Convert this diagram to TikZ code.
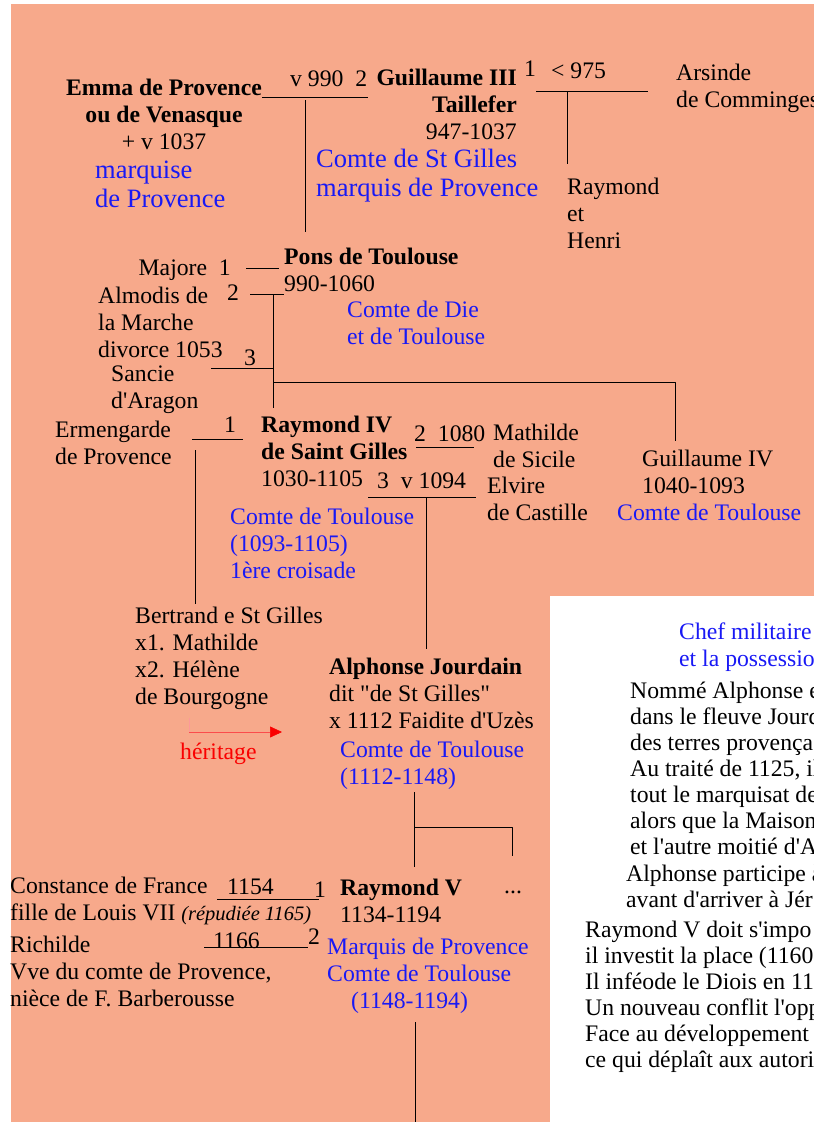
\documentclass[tikz,border=0pt]{standalone}
\usepackage{fontspec}
\setmainfont{Liberation Serif}
\usetikzlibrary{arrows.meta}
\definecolor{saumon}{RGB}{247,169,139}
\definecolor{bleu}{RGB}{25,25,245}
\definecolor{rouge}{RGB}{250,0,0}
\newcommand\taille{\fontsize{23.7pt}{27pt}\selectfont}
\newcommand\serre{\fontsize{23.7pt}{26pt}\selectfont}
\newcommand\grande{\fontsize{26.5pt}{29pt}\selectfont}
\newcommand\apo{\textquotesingle}
\begin{document}
\begin{tikzpicture}[x=1pt, y=-1pt, line join=round, font=\taille, >={Triangle[length=12pt,width=11pt]},
	txt/.style={anchor=base west, inner sep=0pt, align=left},
	titre/.style={txt, text=bleu},
	trait/.style={line width=1pt}]
			\useasboundingbox (0,0) rectangle (814,1122);
			\clip (0,0) rectangle (814,1122);
			\fill[saumon] (11,4) rectangle (814,1122);
			\fill[white] (550,596) rectangle (814,1122);
			% Guillaume III et ses femmes (ancre = ligne du bas)
			\node[txt, anchor=base, align=center] (emma) at (164,149) {\textbf{Emma de Provence}\\\textbf{ou de Venasque}\\+ v 1037};
			\node[titre, font=\grande] (emmat) at (95,207) {marquise\\de Provence};
			\node[txt] (m1) at (290,86) {v 990~~2};
			\node[txt, anchor=base east, align=right] (guil3) at (517,139) {\textbf{Guillaume III}\\\textbf{Taillefer}\\947-1037};
			\node[titre, font=\grande] (guil3t) at (316,196) {Comte de St Gilles\\marquis de Provence};
			\node[txt] (r1) at (524,76) {1};
			\node[txt] (m2) at (551,78) {< 975};
			\node[txt] (arsinde) at (676,107) {Arsinde\\de Comminges};
			\node[txt] (enf) at (567,248) {Raymond\\et\\Henri};
			\coordinate (u1a) at (262,97); \coordinate (u1b) at (368,97);
			\coordinate (d1a) at (305,100); \coordinate (d1b) at (305,232);
			\coordinate (u2a) at (536,91); \coordinate (u2b) at (648,91); \coordinate (d2) at (567,164);
			\draw[trait] (u1a)--(u1b) (d1a)--(d1b);
			\draw[trait] (u2a)--(u2b) (u2a -| d2)--(d2);
			% Pons de Toulouse
			\node[txt] (pons) at (284,291) {\textbf{Pons de Toulouse}\\990-1060};
			\node[titre] (ponst) at (347,344) {Comte de Die\\et de Toulouse};
			\node[txt, anchor=base east] (majore) at (231,275) {Majore~~1};
			\node[txt] (almodis) at (98,357) {Almodis de\\la Marche\\divorce 1053};
			\node[txt] (r2) at (227,300) {2};
			\node[txt] (r3) at (244,365) {3};
			\node[txt] (sancie) at (111,408) {Sancie\\d\apo Aragon};
			\coordinate (u3a) at (246,268); \coordinate (u3b) at (279,268);
			\coordinate (u4a) at (250,294); \coordinate (u4b) at (284,294);
			\coordinate (u5a) at (211,368); \coordinate (d3) at (273,408);
			\coordinate (b1) at (273,382); \coordinate (d4) at (675,441);
			\draw[trait] (u3a)--(u3b) (u4a)--(u4b) (u4a -| d3)--(d3) (u5a)--(u5a -| d3);
			\draw[trait] (b1)--(b1 -| d4)--(d4);
			% Raymond IV
			\node[txt] (ermen) at (55,464) {Ermengarde\\de Provence};
			\node[txt] (r4) at (224,432) {1};
			\node[txt] (ray4) at (261,486) {\textbf{Raymond IV}\\\textbf{de Saint Gilles}\\1030-1105};
			\node[txt] (m3) at (414,441) {2~~1080};
			\node[txt] (mathilde) at (493,467) {Mathilde\\de Sicile};
			\node[txt] (m4) at (377,488) {3~~v 1094};
			\node[txt] (elvire) at (487,520) {Elvire\\de Castille};
			\node[titre] (ray4t) at (230,578) {Comte de Toulouse\\(1093-1105)\\1ère croisade};
			\node[txt] (guil4) at (642,493) {Guillaume IV\\1040-1093};
			\node[titre] (guil4t) at (617,520) {Comte de Toulouse};
			\coordinate (u6a) at (192,439); \coordinate (u6b) at (243,439);
			\coordinate (d5a) at (195,450); \coordinate (d5b) at (195,604);
			\coordinate (u7a) at (416,447); \coordinate (u7b) at (474,447);
			\coordinate (u8a) at (368,497); \coordinate (u8b) at (476,497); \coordinate (d6) at (426,649);
			\draw[trait] (u6a)--(u6b) (d5a)--(d5b) (u7a)--(u7b) (u8a)--(u8b) (u8a -| d6)--(d6);
			% Bertrand et Alphonse
			\node[txt] (bertrand) at (135,704) {Bertrand e St Gilles\\x1. Mathilde\\x2. Hélène\\de Bourgogne};
			\node[txt, text=rouge] (herit) at (180,759) {héritage};
			\coordinate (h1) at (189,732); \coordinate (h2) at (282,732);
			\draw[rouge!40, line width=.6pt] (h1)--++(0,-14);
			\draw[rouge!70, line width=.6pt, ->, >={Triangle[length=12pt,width=11pt,color=rouge]}] (h1)--(h2);
			\node[txt] (alph) at (329,728) {\textbf{Alphonse Jourdain}\\dit \textquotedbl de St Gilles\textquotedbl\\x 1112 Faidite d\apo Uzès};
			\node[titre] (alpht) at (340,784) {Comte de Toulouse\\(1112-1148)};
			\coordinate (d7a) at (414,792); \coordinate (d7b) at (414,867);
			\coordinate (b2) at (414,827); \coordinate (d8) at (512,856);
			\draw[trait] (d7a)--(d7b) (b2)--(b2 -| d8)--(d8);
			% Raymond V
			\node[txt] (ray5) at (340,922) {\textbf{Raymond V}\\1134-1194};
			\node[txt] (autres) at (504,893) {...};
			\node[titre] (ray5t) at (327,1008) {Marquis de Provence\\Comte de Toulouse\\\hspace*{24pt}(1148-1194)};
			\node[txt] (constance) at (10,920) {Constance de France\\fille de Louis VII {\fontsize{20.5pt}{27pt}\selectfont\itshape (répudiée 1165)}};
			\node[txt] (m5) at (227,894) {1154};
			\node[txt] (r5) at (314,897) {1};
			\node[txt] (richilde) at (10,1006) {Richilde\\Vve du comte de Provence,\\nièce de F. Barberousse};
			\node[txt] (m6) at (213,948) {1166};
			\node[txt] (r6) at (308,944) {2};
			\coordinate (u9a) at (217,899); \coordinate (u9b) at (319,899);
			\coordinate (u10a) at (204,947); \coordinate (u10b) at (308,947);
			\coordinate (d9a) at (415,1022); \coordinate (d9b) at (415,1122);
			\draw[trait] (u9a)--(u9b) (u10a)--(u10b) (d9a)--(d9b);
			% encadre de notes
			\begin{scope}
			\clip (550,596) rectangle (814,1122);
			\node[titre] (chef) at (679,666) {Chef militaire\\et la possession};
			\node[txt, font=\serre] (notea) at (630,854) {Nommé Alphonse e\\dans le fleuve Jourd\\des terres provença\\Au traité de 1125, il\\tout le marquisat de\\alors que la Maison\\et l\apo autre moitié d\apo A};
			\node[txt, font=\serre] (noteb) at (626,907) {Alphonse participe à\\avant d\apo arriver à Jér};
			\node[txt, font=\serre] (notec) at (585,1067) {Raymond V doit s\apo impo\\il investit la place (1160\\Il inféode le Diois en 11\\Un nouveau conflit l\apo opp\\Face au développement\\ce qui déplaît aux autori};
			\end{scope}
\end{tikzpicture}
\end{document}
